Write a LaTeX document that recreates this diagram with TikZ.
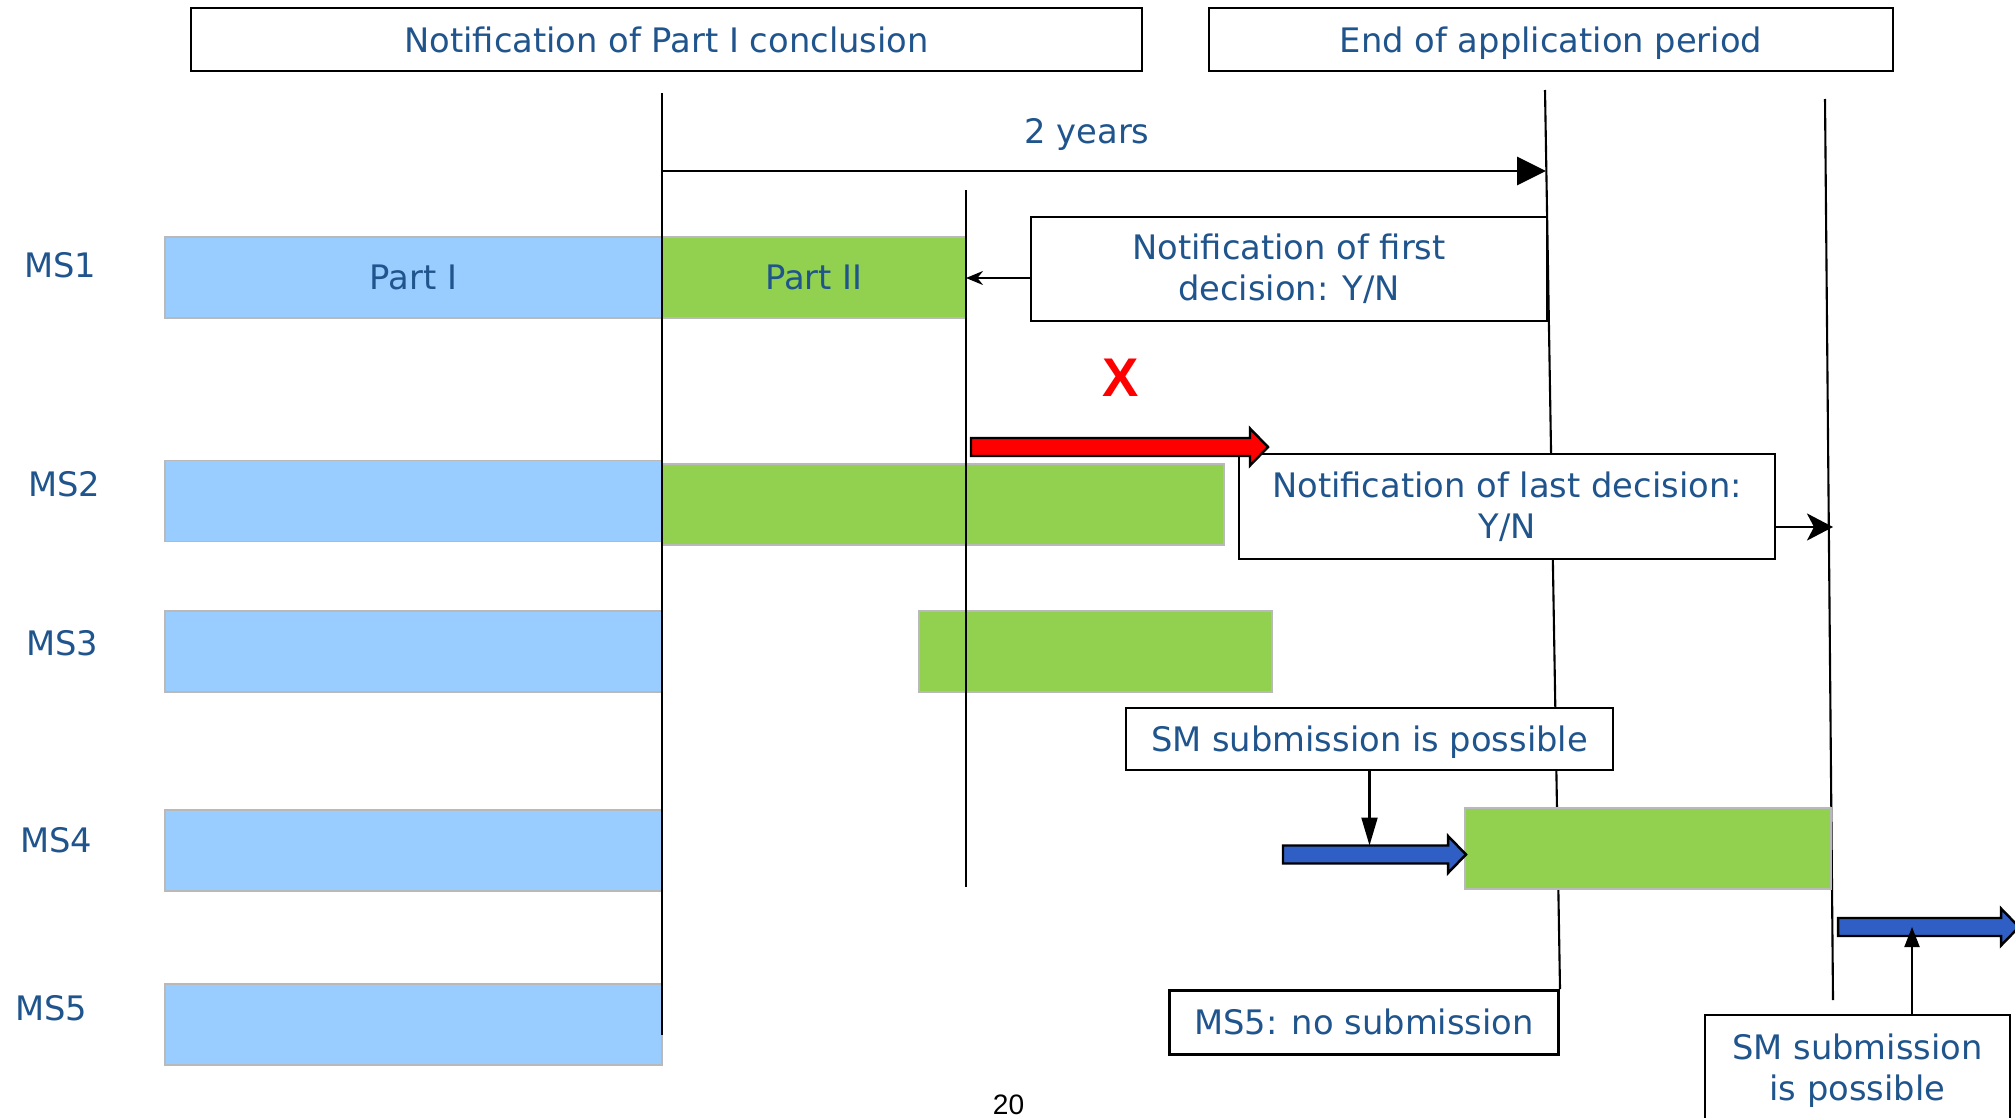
\documentclass[tikz,border=0pt]{standalone}
\usepackage{fontspec}
\setmainfont{DejaVu Sans}
\newfontfamily\arialfont{Liberation Sans}
\usepackage{tikz}
\usetikzlibrary{arrows.meta}
\usepackage{xcolor}
\definecolor{txtblue}{RGB}{31,84,140}
\definecolor{partone}{RGB}{153,204,255}
\definecolor{parttwo}{RGB}{146,208,80}
\definecolor{smblue}{RGB}{47,94,196}

\begin{document}
\begin{tikzpicture}[font=\fontsize{9.6}{11.6}\selectfont,
    bar/.style={draw=gray!55, line width=0.4pt, inner sep=0pt, minimum height=0.81cm, text=txtblue},
    box/.style={draw, line width=0.8pt, fill=white, inner sep=0pt, align=center, text=txtblue},
    lbl/.style={text=txtblue, inner sep=0pt},
    tline/.style={line width=0.6pt}]
    \useasboundingbox (0,0) rectangle (20.15,-11.17);
    % Part I bars
    \foreach \i/\y/\lx/\ly/\txt in {1/2.775/0.60/2.655/Part I, 2/5.01/0.64/4.84/{}, 3/6.515/0.62/6.43/{}, 4/8.505/0.56/8.40/{}, 5/10.245/0.51/10.08/{}}
    {
        \node[lbl] (ms\i) at (\lx,-\ly) {MS\i};
        \node[bar, fill=partone, minimum width=4.97cm] (pa\i) at (4.135,-\y) {\txt};
    }
    % Part II bars
    \node[bar, fill=parttwo, minimum width=3.04cm] (pb1) at (8.14,-2.775) {Part II};
    \node[bar, fill=parttwo, minimum width=5.62cm] (pb2) at (9.43,-5.045) {};
    \node[bar, fill=parttwo, minimum width=3.53cm] (pb3) at (10.955,-6.515) {};
    % Time lines
    \coordinate (ptop) at (6.62,-0.93);
    \coordinate (pbot) at (6.62,-10.35);
    \coordinate (dtop) at (9.66,-1.90);
    \coordinate (dbot) at (9.66,-8.87);
    \coordinate (etop) at (15.45,-0.90);
    \coordinate (ebot) at (15.60,-9.89);
    \coordinate (ltop) at (18.25,-0.99);
    \coordinate (lbot) at (18.33,-10.00);
    \draw[tline] (ptop) -- (pbot);
    \draw[tline] (dtop) -- (dbot);
    \draw[tline] (etop) -- (ebot);
    \draw[tline] (ltop) -- (lbot);
    \node[bar, fill=parttwo, minimum width=3.66cm] (pb4) at (16.48,-8.485) {};
    % 2 years
    \node[lbl] (yrs) at (10.87,-1.345) {2 years};
    \coordinate (ys) at (6.62,-1.71);
    \coordinate (ye) at (15.46,-1.71);
    \draw[line width=0.8pt, -{Triangle[length=0.29cm,width=0.28cm]}] (ys) -- (ye);
    % Boxes
    \node[box, minimum width=9.51cm, minimum height=0.63cm] (concl) at (6.665,-0.395) {Notification of Part I conclusion};
    \node[box, text depth=0pt, minimum width=6.84cm, minimum height=0.63cm] (endapp) at (15.51,-0.395) {End of application period};
    \node[box, minimum width=5.16cm, minimum height=1.04cm] (first) at (12.89,-2.69) {Notification of first\\decision: Y/N};
    \node[box, minimum width=5.36cm, minimum height=1.05cm] (last) at (15.07,-5.065) {Notification of last decision:\\Y/N};
    \node[box, text depth=0pt, minimum width=4.87cm, minimum height=0.62cm] (smA) at (13.695,-7.39) {SM submission is possible};
    \node[box, anchor=north east, minimum width=3.89cm, minimum height=0.64cm] (nosub) at (ebot) {MS5: no submission};
    \node[box, minimum width=3.05cm, minimum height=1.12cm] (smB) at (18.575,-10.71) {SM submission\\is possible};
    % Block arrows
    \foreach \nm/\xa/\xb/\yc/\col in {rej/9.71/12.68/4.47/red, subA/12.83/14.66/8.545/smblue, subB/18.38/20.19/9.27/smblue}
    {
        \draw[fill=\col, line width=0.7pt] (\xa,-\yc+0.09) -- (\xb-0.18,-\yc+0.09) -- (\xb-0.18,-\yc+0.185) -- (\xb,-\yc) -- (\xb-0.18,-\yc-0.185) -- (\xb-0.18,-\yc-0.09) -- (\xa,-\yc-0.09) -- cycle;
        \coordinate (\nm) at (\xa,-\yc);
        \coordinate (\nm-top) at (\xa,-\yc+0.09);
    }
    \node[text=red, font=\arialfont\bfseries\fontsize{15.5}{16}\selectfont, inner sep=0pt] (rejx) at (11.205,-3.775) {X};
    % Connectors
    \coordinate (fa) at ([yshift=-0.09cm]first.west);
    \draw[line width=0.6pt, -{Stealth[length=0.17cm,width=0.14cm]}] (fa) -- (fa -| dtop);
    \coordinate (la) at ([yshift=-0.205cm]last.east);
    \draw[line width=0.8pt, -{Stealth[length=0.26cm,width=0.27cm,inset=0.07cm]}] (la) -- (la -| lbot);
    \draw[line width=0.6pt, -{Triangle[length=0.28cm,width=0.16cm]}] (smA.south) -- (smA.south |- subA-top);
    \coordinate (sb) at ([xshift=0.545cm]smB.north);
    \draw[line width=0.6pt, -{Triangle[length=0.2cm,width=0.15cm]}] (sb) -- (sb |- subB);
    \node[font=\arialfont\fontsize{8}{9}\selectfont, anchor=north, inner sep=0pt] (pg) at (10.085,-10.94) {20};
\end{tikzpicture}
\end{document}
